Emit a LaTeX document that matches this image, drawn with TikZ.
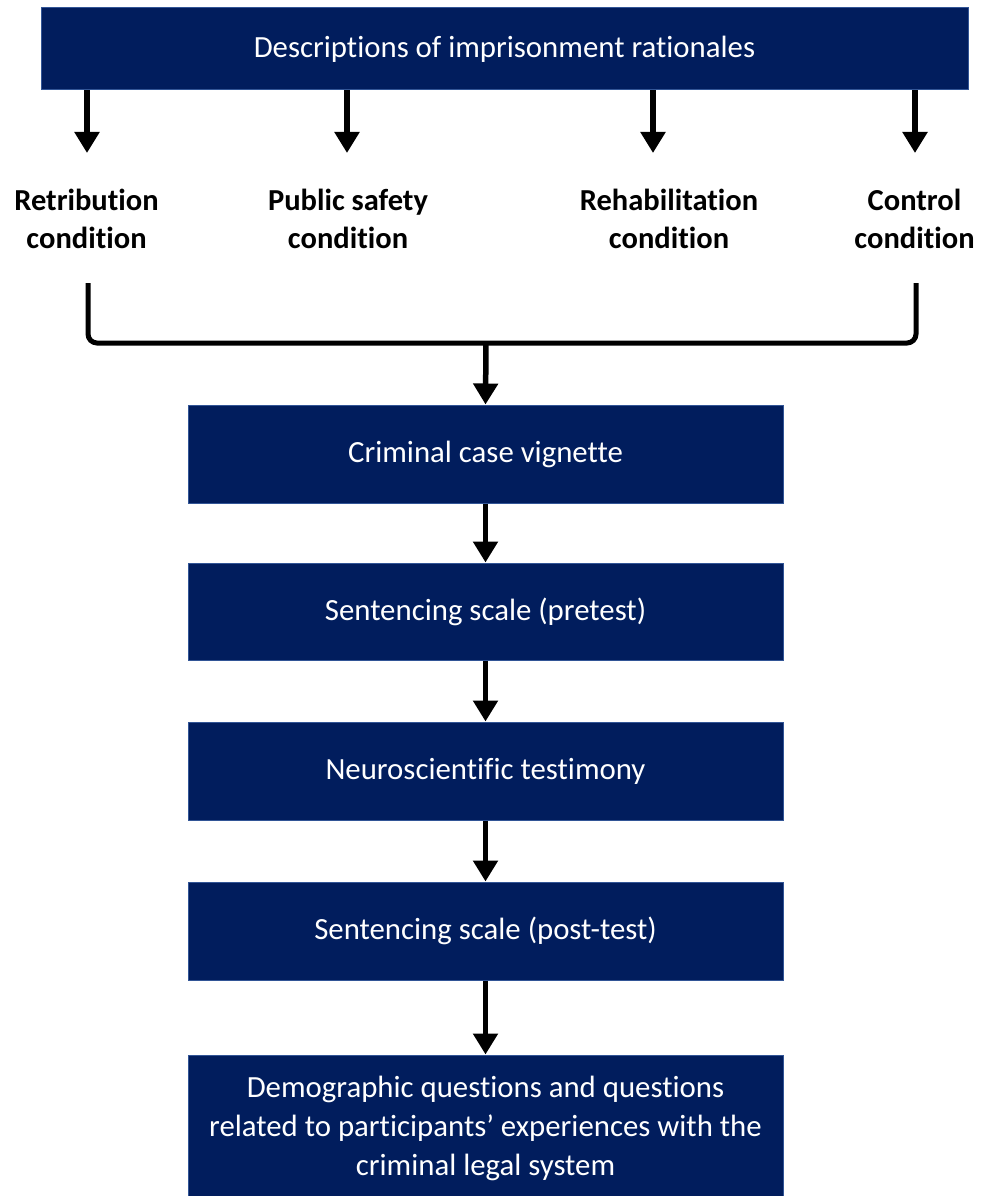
\documentclass[tikz,border=0pt]{standalone}
\usepackage{fontspec}
\setmainfont{Carlito}[RawFeature={-liga;-clig;-dlig;-hlig}]
\usetikzlibrary{arrows.meta}
\definecolor{navy}{RGB}{1,29,93}
\definecolor{navyedge}{RGB}{50,85,150}
\begin{document}
\begin{tikzpicture}[x=1pt,y=-1pt,
  box/.style={fill=navy,draw=navyedge,line width=1pt,text=white,
    font=\fontsize{30.8}{39}\selectfont,align=center,inner sep=0pt},
  cond/.style={font=\bfseries\fontsize{30.5}{38}\selectfont,align=center,inner sep=0pt},
  arr/.style={line width=5.5pt,-{Triangle[width=24pt,length=21pt]}},
  ln/.style={line width=5pt}]
\useasboundingbox (0,0) rectangle (992,1196);
\fill[white] (0,0) rectangle (992,1196);
\node[box,minimum width=927pt,minimum height=82pt] (top) at (504.5,49) {Descriptions of imprisonment rationales};
% condition labels
\node[cond] (ret) at (86.5,219) {Retribution\\condition};
\node[cond] (pub) at (348,219) {Public safety\\condition};
\node[cond] (reh) at (669,219) {Rehabilitation\\condition};
\node[cond] (con) at (914.5,219) {Control\\condition};
% arrow tips above labels
\coordinate (tret) at (87,153);
\coordinate (tpub) at (347,153);
\coordinate (treh) at (653,153);
\coordinate (tcon) at (915,153);
\draw[arr] (top.south -| tret) -- (tret);
\draw[arr] (top.south -| tpub) -- (tpub);
\draw[arr] (top.south -| treh) -- (treh);
\draw[arr] (top.south -| tcon) -- (tcon);
% bracket
\coordinate (bl) at (88,283);
\coordinate (br) at (916,283);
\coordinate (bmid) at (486,343);
\draw[ln,rounded corners=9pt] (bl) |- (bmid) -| (br);
% flow boxes
\node[box,minimum width=595pt,minimum height=98pt] (b1) at (485.5,454) {Criminal case vignette};
\node[box,minimum width=595pt,minimum height=97pt] (b2) at (485.5,611.5) {Sentencing scale (pretest)};
\node[box,minimum width=595pt,minimum height=98pt] (b3) at (485.5,771) {Neuroscientific testimony};
\node[box,minimum width=595pt,minimum height=98pt] (b4) at (485.5,931) {Sentencing scale (post-test)};
\node[box,minimum width=595pt,minimum height=146pt] (b5) at (485.5,1128) {Demographic questions and questions\\related to participants’ experiences with the\\criminal legal system};
\draw[arr] (bmid) -- (b1.north);
\draw[arr] (b1) -- (b2);
\draw[arr] (b2) -- (b3);
\draw[arr] (b3) -- (b4);
\draw[arr] (b4) -- (b5);
\end{tikzpicture}
\end{document}
